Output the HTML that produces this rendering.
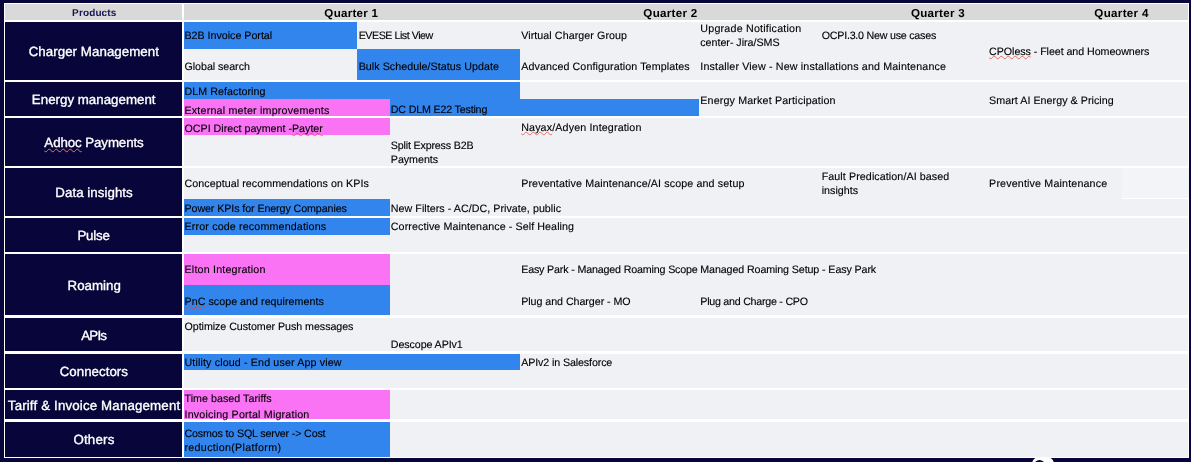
<!DOCTYPE html>
<html><head><meta charset="utf-8"><title>Roadmap</title>
<style>
html,body{margin:0;padding:0}
body{width:1191px;height:462px;overflow:hidden;background:#07053a;position:relative;font-family:"Liberation Sans",sans-serif;text-rendering:geometricPrecision}
.b{position:absolute}
.p{position:absolute;white-space:nowrap;color:#fff;font-size:13.3px;line-height:18px;height:18px;-webkit-text-stroke:0.35px #fff}
.t{position:absolute;white-space:nowrap;font-size:10.7px;line-height:14px;height:14px;color:#000;-webkit-text-stroke:0.12px #000}
.h{position:absolute;white-space:nowrap;font-weight:bold;font-size:11.6px;line-height:16px;height:16px;color:#000}
u{text-decoration:underline wavy rgba(228,60,48,0.7) 0.5px;text-underline-offset:0px;text-decoration-skip-ink:none}
.p u{text-decoration-color:#e07a70;text-underline-offset:1px}
</style></head><body>

<div class="b" style="left:3.90px;top:2.90px;width:1185.30px;height:454.90px;background:#ffffff;"></div>
<div class="b" style="left:1032.4px;top:457.3px;width:22px;height:22px;border-radius:7px;background:#fff"></div><div class="b" style="left:1034.3px;top:460.2px;width:11px;height:11px;border-radius:50%;background:#07053a"></div>
<div class="b" style="left:5.20px;top:4.20px;width:176.60px;height:15.70px;background:#d9d9d9;"></div>
<div class="b" style="left:184.20px;top:4.20px;width:1003.60px;height:15.40px;background:#d9d9d9;"></div>
<div class="b" style="left:5.20px;top:21.90px;width:176.60px;height:58.00px;background:#07053a;"></div>
<div class="b" style="left:184.20px;top:21.90px;width:1003.60px;height:58.00px;background:#f0f1f5;"></div>
<div class="b" style="left:5.20px;top:81.90px;width:176.60px;height:34.00px;background:#07053a;"></div>
<div class="b" style="left:184.20px;top:81.90px;width:1003.60px;height:34.00px;background:#f0f1f5;"></div>
<div class="b" style="left:5.20px;top:117.80px;width:176.60px;height:47.90px;background:#07053a;"></div>
<div class="b" style="left:184.20px;top:117.80px;width:1003.60px;height:47.90px;background:#f0f1f5;"></div>
<div class="b" style="left:5.20px;top:167.90px;width:176.60px;height:47.70px;background:#07053a;"></div>
<div class="b" style="left:184.20px;top:167.90px;width:1003.60px;height:47.70px;background:#f0f1f5;"></div>
<div class="b" style="left:5.20px;top:217.80px;width:176.60px;height:33.90px;background:#07053a;"></div>
<div class="b" style="left:184.20px;top:217.80px;width:1003.60px;height:33.90px;background:#f0f1f5;"></div>
<div class="b" style="left:5.20px;top:253.80px;width:176.60px;height:61.60px;background:#07053a;"></div>
<div class="b" style="left:184.20px;top:253.80px;width:1003.60px;height:61.60px;background:#f0f1f5;"></div>
<div class="b" style="left:5.20px;top:317.60px;width:176.60px;height:33.90px;background:#07053a;"></div>
<div class="b" style="left:184.20px;top:317.60px;width:1003.60px;height:33.90px;background:#f0f1f5;"></div>
<div class="b" style="left:5.20px;top:353.80px;width:176.60px;height:33.80px;background:#07053a;"></div>
<div class="b" style="left:184.20px;top:353.80px;width:1003.60px;height:33.80px;background:#f0f1f5;"></div>
<div class="b" style="left:5.20px;top:389.80px;width:176.60px;height:29.60px;background:#07053a;"></div>
<div class="b" style="left:184.20px;top:389.80px;width:1003.60px;height:29.60px;background:#f0f1f5;"></div>
<div class="b" style="left:5.20px;top:421.50px;width:176.60px;height:35.10px;background:#07053a;"></div>
<div class="b" style="left:184.20px;top:421.50px;width:1003.60px;height:35.10px;background:#f0f1f5;"></div>
<div class="b" style="left:1121.50px;top:167.90px;width:67.10px;height:30.50px;background:#f3f4f8;"></div>
<div class="b" style="left:1121.50px;top:198.40px;width:67.10px;height:0.70px;background:#fff;"></div>
<div class="b" style="left:184.20px;top:21.90px;width:172.70px;height:26.80px;background:#3385ee;"></div>
<div class="b" style="left:356.90px;top:48.70px;width:163.00px;height:31.20px;background:#3385ee;"></div>
<div class="b" style="left:184.20px;top:81.90px;width:335.70px;height:17.00px;background:#3385ee;"></div>
<div class="b" style="left:184.20px;top:98.90px;width:205.80px;height:17.00px;background:#f973f4;"></div>
<div class="b" style="left:390.00px;top:98.90px;width:309.00px;height:17.00px;background:#3385ee;"></div>
<div class="b" style="left:184.20px;top:117.80px;width:205.80px;height:17.10px;background:#f973f4;"></div>
<div class="b" style="left:184.20px;top:199.10px;width:205.80px;height:16.50px;background:#3385ee;"></div>
<div class="b" style="left:184.20px;top:217.80px;width:205.80px;height:17.00px;background:#3385ee;"></div>
<div class="b" style="left:184.20px;top:253.80px;width:205.80px;height:31.40px;background:#f973f4;"></div>
<div class="b" style="left:184.20px;top:285.20px;width:205.80px;height:30.20px;background:#3385ee;"></div>
<div class="b" style="left:184.20px;top:353.80px;width:335.70px;height:16.70px;background:#3385ee;"></div>
<div class="b" style="left:184.20px;top:389.80px;width:205.80px;height:29.60px;background:#f973f4;"></div>
<div class="b" style="left:184.20px;top:421.50px;width:205.80px;height:35.10px;background:#3385ee;"></div>
<div class="h" id="h0" style="left:72.10px;top:6px;letter-spacing:0.126px;font-size:10px;color:#17154f;">Products</div>
<div class="h" id="h1" style="left:324.37px;top:6px;letter-spacing:0.265px;">Quarter 1</div>
<div class="h" id="h2" style="left:643.35px;top:6px;letter-spacing:0.298px;">Quarter 2</div>
<div class="h" id="h3" style="left:910.97px;top:6px;letter-spacing:0.260px;">Quarter 3</div>
<div class="h" id="h4" style="left:1094.37px;top:6px;letter-spacing:0.304px;">Quarter 4</div>
<div class="p" id="p0" style="left:28.70px;top:43px;letter-spacing:0.054px;">Charger Management</div>
<div class="p" id="p1" style="left:31.86px;top:91px;letter-spacing:0.012px;">Energy management</div>
<div class="p" id="p2" style="left:44.36px;top:134px;letter-spacing:-0.089px;"><u>Adhoc</u> Payments</div>
<div class="p" id="p3" style="left:55.33px;top:184px;letter-spacing:0.047px;">Data insights</div>
<div class="p" id="p4" style="left:77.46px;top:227px;letter-spacing:-0.231px;">Pulse</div>
<div class="p" id="p5" style="left:67.53px;top:277px;letter-spacing:0.011px;">Roaming</div>
<div class="p" id="p6" style="left:81.32px;top:327px;letter-spacing:-0.827px;">APIs</div>
<div class="p" id="p7" style="left:59.66px;top:363px;letter-spacing:0.029px;">Connectors</div>
<div class="p" id="p8" style="left:7.84px;top:397px;letter-spacing:0.155px;">Tariff &amp; Invoice Management</div>
<div class="p" id="p9" style="left:73.42px;top:431px;letter-spacing:0.214px;">Others</div>
<div class="t" id="t0" style="left:184.50px;top:29px;letter-spacing:-0.017px;">B2B Invoice Portal</div>
<div class="t" id="t1" style="left:358.70px;top:29px;letter-spacing:-0.469px;">EVESE List View</div>
<div class="t" id="t2" style="left:521.20px;top:29px;letter-spacing:0.076px;">Virtual Charger Group</div>
<div class="t" id="t3" style="left:700.30px;top:22px;letter-spacing:0.215px;">Upgrade Notification</div>
<div class="t" id="t4" style="left:700.30px;top:36px;letter-spacing:-0.020px;">center- Jira/SMS</div>
<div class="t" id="t5" style="left:821.70px;top:29px;letter-spacing:-0.231px;">OCPI.3.0 New use cases</div>
<div class="t" id="t6" style="left:989.10px;top:45px;letter-spacing:-0.063px;"><u>CPOless</u> - Fleet and Homeowners</div>
<div class="t" id="t7" style="left:184.50px;top:60px;letter-spacing:-0.047px;">Global search</div>
<div class="t" id="t8" style="left:358.70px;top:60px;letter-spacing:0.044px;">Bulk Schedule/Status Update</div>
<div class="t" id="t9" style="left:521.20px;top:60px;letter-spacing:0.093px;">Advanced Configuration Templates</div>
<div class="t" id="t10" style="left:700.30px;top:60px;letter-spacing:0.156px;">Installer View - New installations and Maintenance</div>
<div class="t" id="t11" style="left:184.50px;top:85px;letter-spacing:0.057px;">DLM Refactoring</div>
<div class="t" id="t12" style="left:184.50px;top:104px;letter-spacing:0.201px;">External meter improvements</div>
<div class="t" id="t13" style="left:390.80px;top:103px;letter-spacing:-0.180px;">DC DLM E22 Testing</div>
<div class="t" id="t14" style="left:700.30px;top:94px;letter-spacing:0.153px;">Energy Market Participation</div>
<div class="t" id="t15" style="left:989.10px;top:94px;letter-spacing:0.041px;">Smart AI Energy &amp; Pricing</div>
<div class="t" id="t16" style="left:184.50px;top:122px;letter-spacing:-0.002px;">OCPI Direct payment -<u>Payter</u></div>
<div class="t" id="t17" style="left:521.20px;top:121px;letter-spacing:0.143px;"><u>Nayax</u>/Adyen Integration</div>
<div class="t" id="t18" style="left:390.80px;top:139px;letter-spacing:-0.174px;">Split Express B2B</div>
<div class="t" id="t19" style="left:390.80px;top:153px;letter-spacing:-0.032px;">Payments</div>
<div class="t" id="t20" style="left:184.50px;top:177px;letter-spacing:0.057px;">Conceptual recommendations on KPIs</div>
<div class="t" id="t21" style="left:521.20px;top:177px;letter-spacing:0.123px;">Preventative Maintenance/AI scope and setup</div>
<div class="t" id="t22" style="left:821.70px;top:170px;letter-spacing:0.089px;">Fault Predication/AI based</div>
<div class="t" id="t23" style="left:821.70px;top:184px;letter-spacing:0.011px;">insights</div>
<div class="t" id="t24" style="left:989.10px;top:177px;letter-spacing:0.162px;">Preventive Maintenance</div>
<div class="t" id="t25" style="left:184.50px;top:202px;letter-spacing:-0.091px;">Power KPIs for Energy Companies</div>
<div class="t" id="t26" style="left:390.80px;top:202px;letter-spacing:0.045px;">New Filters - AC/DC, Private, public</div>
<div class="t" id="t27" style="left:184.50px;top:220px;letter-spacing:0.154px;">Error code recommendations</div>
<div class="t" id="t28" style="left:390.80px;top:220px;letter-spacing:0.091px;">Corrective Maintenance - Self Healing</div>
<div class="t" id="t29" style="left:184.50px;top:263px;letter-spacing:0.194px;">Elton Integration</div>
<div class="t" id="t30" style="left:521.20px;top:263px;letter-spacing:-0.162px;">Easy Park - Managed Roaming Scope</div>
<div class="t" id="t31" style="left:700.30px;top:263px;letter-spacing:-0.110px;">Managed Roaming Setup - Easy Park</div>
<div class="t" id="t32" style="left:184.50px;top:295px;letter-spacing:0.035px;"><u>PnC</u> scope and requirements</div>
<div class="t" id="t33" style="left:521.20px;top:295px;letter-spacing:-0.051px;">Plug and Charger - MO</div>
<div class="t" id="t34" style="left:700.30px;top:295px;letter-spacing:-0.257px;">Plug and Charge - CPO</div>
<div class="t" id="t35" style="left:184.50px;top:320px;letter-spacing:-0.050px;">Optimize Customer Push messages</div>
<div class="t" id="t36" style="left:390.80px;top:338px;letter-spacing:-0.092px;">Descope APIv1</div>
<div class="t" id="t37" style="left:184.50px;top:356px;letter-spacing:0.137px;">Utility cloud - End user App view</div>
<div class="t" id="t38" style="left:521.20px;top:356px;letter-spacing:-0.119px;">APIv2 in Salesforce</div>
<div class="t" id="t39" style="left:184.50px;top:392px;letter-spacing:0.036px;">Time based Tariffs</div>
<div class="t" id="t40" style="left:184.50px;top:408px;letter-spacing:0.191px;">Invoicing Portal Migration</div>
<div class="t" id="t41" style="left:184.50px;top:427px;letter-spacing:-0.160px;">Cosmos to SQL server -&gt; Cost</div>
<div class="t" id="t42" style="left:184.50px;top:441px;letter-spacing:0.309px;">reduction(Platform)</div>
</body></html>
